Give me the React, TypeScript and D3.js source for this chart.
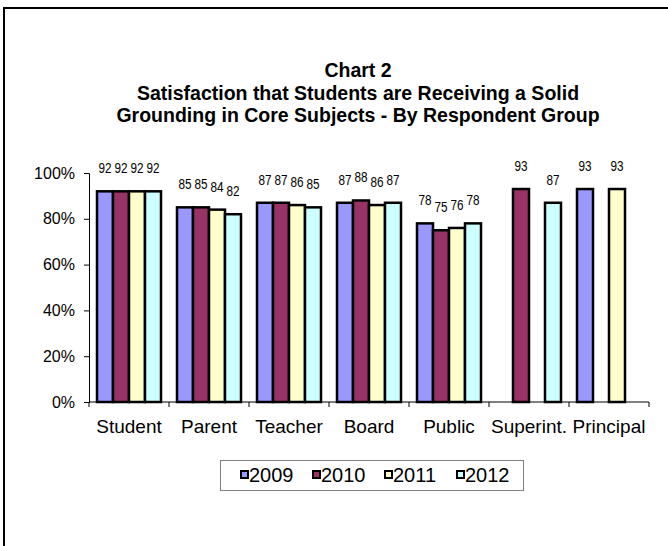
import { useEffect, useRef } from "react";
import * as d3 from "d3";

// Données du graphique
const categories = ["Student", "Parent", "Teacher", "Board", "Public", "Superint.", "Principal"];
const years = ["2009", "2010", "2011", "2012"];
const values2009 = [92, 85, 87, 87, 78, null, 93];
const values2010 = [92, 85, 87, 88, 75, 93, null];
const values2011 = [92, 84, 86, 86, 76, null, 93];
const values2012 = [92, 82, 85, 87, 78, 87, null];
const yTicks = [0, 20, 40, 60, 80, 100];
const titleLines = [
  "Chart 2",
  "Satisfaction that Students are Receiving a Solid",
  "Grounding in Core Subjects - By Respondent Group",
];

const colors = ["#9999ff", "#993366", "#ffffcc", "#ccffff"];
const seriesValues = [values2009, values2010, values2011, values2012];

export default function App() {
  const svgRef = useRef<SVGSVGElement>(null);

  useEffect(() => {
    if (!svgRef.current) return;
    document.body.style.margin = "0";
    const svg = d3.select(svgRef.current);
    svg.selectAll("*").remove();

    const width = 668;
    const height = 546;
    const left = 89;
    const right = 649;
    const top = 173;
    const bottom = 402;
    const font = "Arial, 'Liberation Sans', sans-serif";

    svg.append("rect").attr("width", width).attr("height", height).attr("fill", "#fff");

    // Cadre extérieur (coupé à droite et en bas)
    svg
      .append("rect")
      .attr("x", 4)
      .attr("y", 8)
      .attr("width", 700)
      .attr("height", 600)
      .attr("fill", "none")
      .attr("stroke", "#000")
      .attr("stroke-width", 2);

    // Titre
    svg
      .append("g")
      .selectAll("text")
      .data(titleLines)
      .enter()
      .append("text")
      .attr("x", 358)
      .attr("y", (_, i) => 77 + i * 22.5)
      .attr("text-anchor", "middle")
      .style("font-family", font)
      .style("font-weight", "bold")
      .style("font-size", "19.5px")
      .text((d) => d);

    const x0 = d3
      .scaleBand()
      .domain(categories)
      .range([left, right])
      .paddingInner(0.2)
      .paddingOuter(0.1);
    const x1 = d3.scaleBand().domain(years).range([0, x0.bandwidth()]);
    const y = d3.scaleLinear().domain([0, 100]).range([bottom, top]);

    // Axe Y
    const yAxis = svg
      .append("g")
      .attr("transform", `translate(${left},0)`)
      .call(
        d3
          .axisLeft(y)
          .tickValues(yTicks)
          .tickSize(5)
          .tickPadding(9)
          .tickFormat((d) => `${d}%`)
      );
    yAxis.select(".domain").attr("stroke", "#000");
    yAxis.selectAll(".tick line").attr("stroke", "#000");
    yAxis
      .selectAll("text")
      .style("font-family", font)
      .style("font-size", "16px")
      .attr("fill", "#000");

    // Barres
    const flat = categories.flatMap((c, ci) =>
      years.map((yr, si) => ({ c, yr, si, v: seriesValues[si][ci] }))
    );
    const present = flat.filter((d) => d.v !== null) as {
      c: string;
      yr: string;
      si: number;
      v: number;
    }[];

    svg
      .append("g")
      .selectAll("rect")
      .data(present)
      .enter()
      .append("rect")
      .attr("x", (d) => (x0(d.c) || 0) + (x1(d.yr) || 0))
      .attr("y", (d) => y(d.v))
      .attr("width", x1.bandwidth())
      .attr("height", (d) => bottom - y(d.v))
      .attr("fill", (d) => colors[d.si])
      .attr("stroke", "#000")
      .attr("stroke-width", 2.5);

    // Étiquettes (police étroite simulée)
    svg
      .append("g")
      .selectAll("text")
      .data(present)
      .enter()
      .append("text")
      .attr(
        "transform",
        (d) =>
          `translate(${(x0(d.c) || 0) + (x1(d.yr) || 0) + x1.bandwidth() / 2},${
            y(d.v) - 18
          }) scale(0.84,1)`
      )
      .attr("text-anchor", "middle")
      .style("font-family", font)
      .style("font-size", "14px")
      .text((d) => String(d.v));

    // Axe X
    const step = x0.step();
    const boundaries = d3.range(categories.length + 1).map((i) => left + i * step);
    svg
      .append("line")
      .attr("x1", left)
      .attr("x2", right)
      .attr("y1", bottom)
      .attr("y2", bottom)
      .attr("stroke", "#000");
    svg
      .append("g")
      .selectAll("line")
      .data(boundaries)
      .enter()
      .append("line")
      .attr("x1", (d) => d)
      .attr("x2", (d) => d)
      .attr("y1", bottom)
      .attr("y2", bottom + 5)
      .attr("stroke", "#000");
    svg
      .append("g")
      .selectAll("text")
      .data(categories)
      .enter()
      .append("text")
      .attr("x", (d) => (x0(d) || 0) + x0.bandwidth() / 2)
      .attr("y", 433)
      .attr("text-anchor", "middle")
      .style("font-family", font)
      .style("font-size", "19px")
      .text((d) => d);

    // Légende
    const legend = svg.append("g");
    legend
      .append("rect")
      .attr("x", 220.5)
      .attr("y", 460.5)
      .attr("width", 303)
      .attr("height", 30)
      .attr("fill", "#fff")
      .attr("stroke", "#808080");
    const items = legend
      .selectAll("g")
      .data(years)
      .enter()
      .append("g")
      .attr("transform", (_, i) => `translate(${240 + i * 72},0)`);
    items
      .append("rect")
      .attr("x", 1)
      .attr("y", 471)
      .attr("width", 7)
      .attr("height", 7)
      .attr("fill", (_, i) => colors[i])
      .attr("stroke", "#000")
      .attr("stroke-width", 2);
    items
      .append("text")
      .attr("x", 9)
      .attr("y", 482)
      .style("font-family", font)
      .style("font-size", "20px")
      .text((d) => d);
  }, []);

  return (
    <svg
      ref={svgRef}
      width={668}
      height={546}
      style={{ display: "block", position: "absolute", left: 0, top: 0 }}
    />
  );
}
